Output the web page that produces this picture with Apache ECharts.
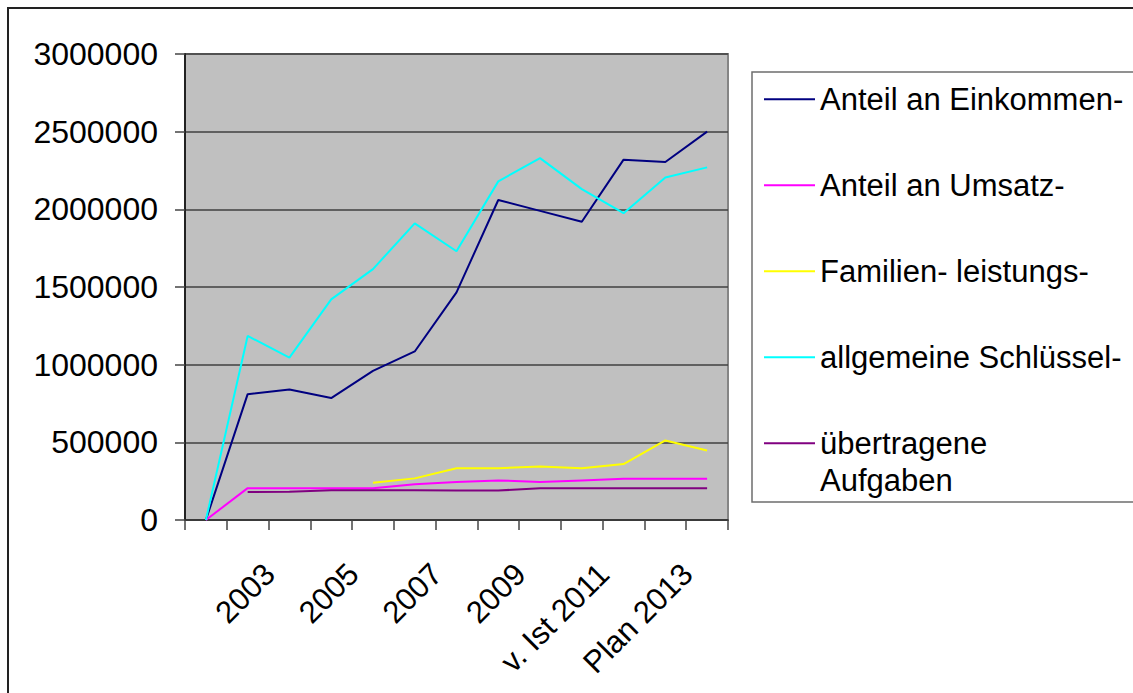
<!DOCTYPE html>
<html>
<head>
<meta charset="utf-8">
<script src="https://cdn.jsdelivr.net/npm/echarts@6/dist/echarts.min.js"></script>
<style>
html,body{margin:0;padding:0;background:#fff;}
#c{width:1133px;height:693px;}
</style>
</head>
<body>
<div id="c"></div>
<script>
var categories = ['', '2002', '2003', '2004', '2005', '2006', '2007', '2008', '2009', '2010', 'v. Ist 2011', '2012', 'Plan 2013'];
var seriesNames = ['Anteil an Einkommen-', 'Anteil an Umsatz-', 'Familien- leistungs-', 'allgemeine Schlüssel-', 'übertragene Aufgaben'];
var einkommen = [0, 810000, 840000, 785000, 960000, 1085000, 1465000, 2060000, 1990000, 1920000, 2320000, 2305000, 2500000];
var umsatz = [0, 205000, 205000, 205000, 205000, 230000, 245000, 255000, 245000, 255000, 265000, 265000, 265000];
var familien = [null, null, null, null, 240000, 268000, 333000, 333000, 345000, 333000, 360000, 512000, 447000];
var schluessel = [0, 1185000, 1045000, 1420000, 1615000, 1910000, 1730000, 2180000, 2330000, 2130000, 1975000, 2205000, 2270000];
var uebertragen = [null, 180000, 182000, 192000, 192000, 192000, 190000, 190000, 204000, 204000, 204000, 204000, 204000];
var yTicks = [0, 500000, 1000000, 1500000, 2000000, 2500000, 3000000];
var colors = ['#000080', '#FF00FF', '#FFFF00', '#00FFFF', '#800080'];

var FONT = 'Liberation Sans, Arial, sans-serif';
var chart = echarts.init(document.getElementById('c'), null, {renderer: 'svg'});

function lineSeries(i, data) {
  return {
    name: seriesNames[i], type: 'line', data: data,
    symbol: 'none', showSymbol: false,
    lineStyle: {color: colors[i], width: 2},
    itemStyle: {color: colors[i]},
    connectNulls: false, animation: false
  };
}

var option = {
  animation: false,
  textStyle: {fontFamily: FONT},
  graphic: [
    {type: 'rect', z: -10, silent: true, shape: {x: 8, y: 8, width: 1300, height: 900}, style: {fill: 'none', stroke: '#222', lineWidth: 2}},
    {type: 'rect', z: -5, silent: true, shape: {x: 752, y: 72, width: 600, height: 430}, style: {fill: '#fff', stroke: '#6e6e6e', lineWidth: 1.5}}
  ],
  grid: {
    left: 185, top: 54, right: 405, bottom: 173,
    show: true, backgroundColor: '#C0C0C0', borderColor: '#858585', borderWidth: 2,
    containLabel: false
  },
  legend: [
    {
      data: seriesNames.slice(0, 4),
      orient: 'vertical', left: 764, top: 80.8, padding: 0,
      itemGap: 49, itemWidth: 51, itemHeight: 2, icon: 'rect',
      textStyle: {fontFamily: FONT, fontSize: 31, color: '#000', lineHeight: 37},
      selectedMode: false
    },
    {
      data: [seriesNames[4]],
      orient: 'vertical', left: 764, top: 387.8, padding: 0,
      itemWidth: 51, itemHeight: 2, icon: 'rect',
      formatter: function () { return '\nübertragene\nAufgaben'; },
      textStyle: {fontFamily: FONT, fontSize: 31, color: '#000', lineHeight: 37},
      selectedMode: false
    }
  ],
  xAxis: {
    type: 'category', data: categories, boundaryGap: true,
    axisLine: {show: true, lineStyle: {color: '#333', width: 1.5}},
    axisTick: {show: true, length: 10, interval: 0, lineStyle: {color: '#444', width: 1.5}},
    axisLabel: {
      interval: 1, rotate: 45, fontSize: 31, color: '#000', fontFamily: FONT,
      margin: 29, padding: [0, 28, 0, 0]
    },
    splitLine: {show: false}
  },
  yAxis: {
    type: 'value', min: yTicks[0], max: yTicks[yTicks.length - 1], interval: yTicks[1] - yTicks[0],
    axisLine: {show: true, lineStyle: {color: '#222', width: 2}},
    axisTick: {show: true, length: 10, lineStyle: {color: '#444', width: 1.5}},
    axisLabel: {fontSize: 32, color: '#000', fontFamily: FONT, margin: 27, formatter: function (v) { return String(v); }},
    splitLine: {show: true, lineStyle: {color: '#404040', width: 1.5}}
  },
  series: [
    lineSeries(0, einkommen),
    lineSeries(1, umsatz),
    lineSeries(2, familien),
    lineSeries(3, schluessel),
    lineSeries(4, uebertragen)
  ]
};
chart.setOption(option);
</script>
</body>
</html>
